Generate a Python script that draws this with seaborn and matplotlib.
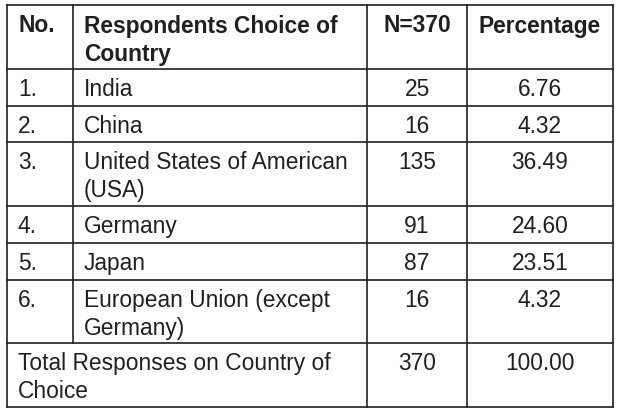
import matplotlib
matplotlib.use('Agg')
import matplotlib.pyplot as plt
import seaborn as sns

# table content
headers = ['No.', 'Respondents Choice of\nCountry', 'N=370', 'Percentage']
nos = ['1.', '2.', '3.', '4.', '5.', '6.']
countries = ['India', 'China', 'United States of American\n(USA)', 'Germany', 'Japan',
             'European Union (except\nGermany)']
counts = [25, 16, 135, 91, 87, 16]
percents = [6.76, 4.32, 36.49, 24.60, 23.51, 4.32]
total_label = 'Total Responses on Country of\nChoice'
total_n = 370
total_pct = 100.00

sns.set_theme(style='white')
plt.rcParams['font.family'] = ['Liberation Sans', 'DejaVu Sans']

W, H = 621, 414
fig = plt.figure(figsize=(W / 100, H / 100), dpi=100)
ax = fig.add_axes([0, 0, 1, 1])
ax.set_xlim(0, W)
ax.set_ylim(H, 0)
ax.axis('off')

col_x = [7, 73, 367, 467, 613]
row_y = [6, 70, 107, 143, 207, 244, 281, 344, 408]
ink = '#231f20'
fs = 16.4
base_off = 26.5
line_gap = 28


def cell(text, col, row, bold=False, center=False):
    top = row_y[row]
    for k, line in enumerate(str(text).split('\n')):
        if center:
            x = (col_x[col] + col_x[col + 1]) / 2
            ha = 'center'
        else:
            x = col_x[col] + 11
            ha = 'left'
        ax.text(x, top + base_off + k * line_gap, line, ha=ha, va='baseline',
                fontsize=fs, color=ink, fontweight='bold' if bold else 'normal')


# header
cell(headers[0], 0, 0, bold=True)
cell(headers[1], 1, 0, bold=True)
cell(headers[2], 2, 0, bold=True, center=True)
cell(headers[3], 3, 0, bold=True, center=True)

for i in range(len(nos)):
    cell(nos[i], 0, i + 1)
    cell(countries[i], 1, i + 1)
    cell(counts[i], 2, i + 1, center=True)
    cell(f'{percents[i]:.2f}', 3, i + 1, center=True)

last = len(row_y) - 2
cell(total_label, 0, last)
cell(total_n, 2, last, center=True)
cell(f'{total_pct:.2f}', 3, last, center=True)

# grid lines
lw = 1.2
for y in row_y:
    ax.plot([col_x[0], col_x[-1]], [y, y], color=ink, lw=lw, solid_capstyle='projecting')
for j, x in enumerate(col_x):
    y_end = row_y[-2] if j == 1 else row_y[-1]
    ax.plot([x, x], [row_y[0], y_end], color=ink, lw=lw, solid_capstyle='projecting')

fig.savefig('out.png', dpi=100, facecolor='white')
